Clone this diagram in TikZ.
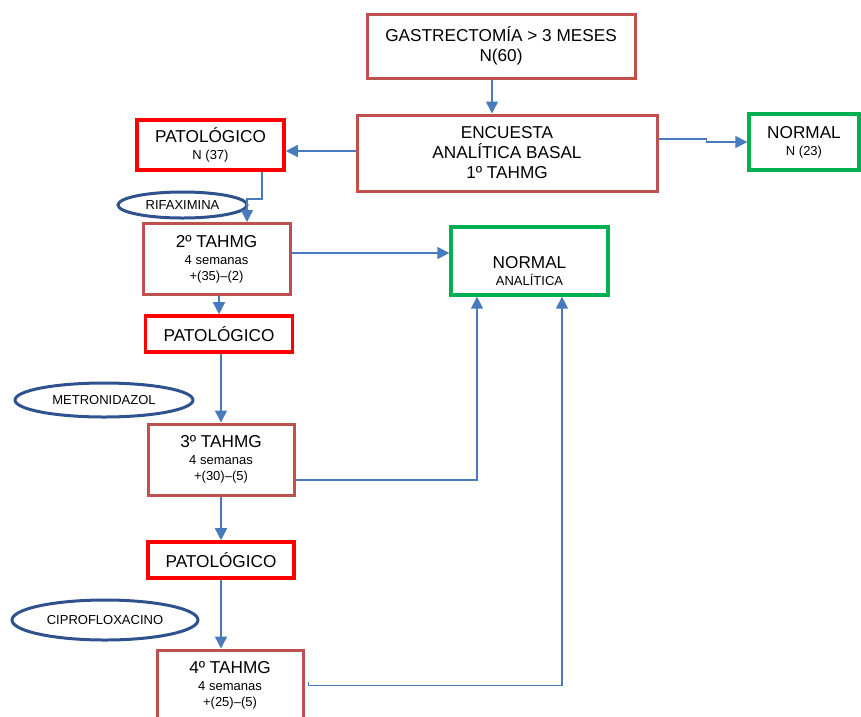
\documentclass[tikz,border=0pt]{standalone}
\usepackage{fontspec}
\setmainfont{Liberation Sans}
\usepackage{tikz}
\usetikzlibrary{shapes,arrows.meta,positioning}

\definecolor{boxred}{RGB}{192,80,77}
\definecolor{patred}{RGB}{255,0,0}
\definecolor{okgreen}{RGB}{0,176,80}
\definecolor{drugblue}{RGB}{47,82,143}
\definecolor{lineblue}{RGB}{72,122,190}
\newcommand{\sm}{\fontsize{13}{15}\selectfont}

\begin{document}
\begin{tikzpicture}[x=1pt, y=-1pt,
    every node/.style={font=\fontsize{17.2}{20}\selectfont, align=center, inner sep=0pt},
    tbox/.style={rectangle, draw=boxred, line width=3pt},
    pbox/.style={rectangle, draw=patred, line width=3.6pt},
    nbox/.style={rectangle, draw=okgreen, line width=3.3pt},
    drug/.style={ellipse, draw=drugblue, line width=3pt, font=\sm},
    flow/.style={draw=lineblue, line width=1.5pt, -{Triangle[length=12pt,width=12pt]}}]
    \path[use as bounding box, clip] (0,0) rectangle (861,716);

    % Start
    \node [tbox, minimum width=268, minimum height=64] (gastro) at (501,46) {GASTRECTOMÍA > 3 MESES\\N(60)};
    \node [tbox, minimum width=300, minimum height=76] (encuesta) at (507,153) {ENCUESTA\\ANALÍTICA BASAL\\1º TAHMG};

    % First result
    \node [pbox, minimum width=147, minimum height=50] (pat1) at (210.5,145) {PATOLÓGICO\\[-3pt]{\sm N (37)}};
    \node [nbox, minimum width=110, minimum height=56] (normal1) at (804,142) {NORMAL\\[-3pt]{\sm N (23)}};

    % Treatments
    \node [drug, minimum width=129, minimum height=26] (rifax) at (182.5,205) {RIFAXIMINA};
    \node [drug, minimum width=178, minimum height=34] (metro) at (104,400) {METRONIDAZOL};
    \node [drug, minimum width=186, minimum height=40] (cipro) at (105,620) {CIPROFLOXACINO};

    % Tests
    \node [tbox, minimum width=147, minimum height=71] (tahmg2) at (216.5,259) {2º TAHMG\\[-3pt]{\sm 4 semanas}\\[-4pt]{\sm +(35)–(2)}};
    \node [pbox, minimum width=147, minimum height=36] (pat2) at (219,334) {PATOLÓGICO};
    \node [tbox, minimum width=146, minimum height=71] (tahmg3) at (221,459.5) {3º TAHMG\\[-3pt]{\sm 4 semanas}\\[-4pt]{\sm +(30)–(5)}};
    \node [pbox, minimum width=146, minimum height=36] (pat3) at (221,560) {PATOLÓGICO};
    \node [tbox, minimum width=146, minimum height=71] (tahmg4) at (230,685.5) {4º TAHMG\\[-3pt]{\sm 4 semanas}\\[-4pt]{\sm +(25)–(5)}};

    % Normal after treatment
    \node [nbox, minimum width=157, minimum height=68] (normal2) at (529.5,261) {\raisebox{-12pt}[\height][\depth]{\begin{tabular}{@{}c@{}}NORMAL\\[-3pt]{\sm ANALÍTICA}\end{tabular}}};

    % Arrows
    \draw [flow] ([xshift=-9pt]gastro.south) -- ([xshift=-9pt]gastro.south |- encuesta.north);
    \draw [flow] ([yshift=2pt]encuesta.west) -- ([yshift=2pt]pat1.east |- encuesta.west);
    \draw [flow] ([yshift=14pt]encuesta.east) -- ++(48,0) |- (normal1.west);
    \draw [flow] ([xshift=51.5pt]pat1.south) -- ++(0,27) -| ([xshift=30.5pt]tahmg2.north);
    \draw [flow] ([yshift=6pt]tahmg2.east) -- ++(82,0) |- ([yshift=8pt]normal2.west);
    \draw [flow] (tahmg2.south -| pat2.north) -- (pat2.north);
    \draw [flow] (pat2.south -| tahmg3.north) -- (tahmg3.north);
    \draw [flow] ([yshift=-20.5pt]tahmg3.east) -| ([xshift=-52.5pt]normal2.south);
    \draw [flow] (tahmg3.south) -- (pat3.north);
    \draw [flow] (pat3.south) -- (pat3.south |- tahmg4.north);
    \draw [flow] ([xshift=4pt,yshift=4pt]tahmg4.east) -- ([xshift=4pt]tahmg4.east) -| ([xshift=32.5pt]normal2.south);
\end{tikzpicture}
\end{document}
